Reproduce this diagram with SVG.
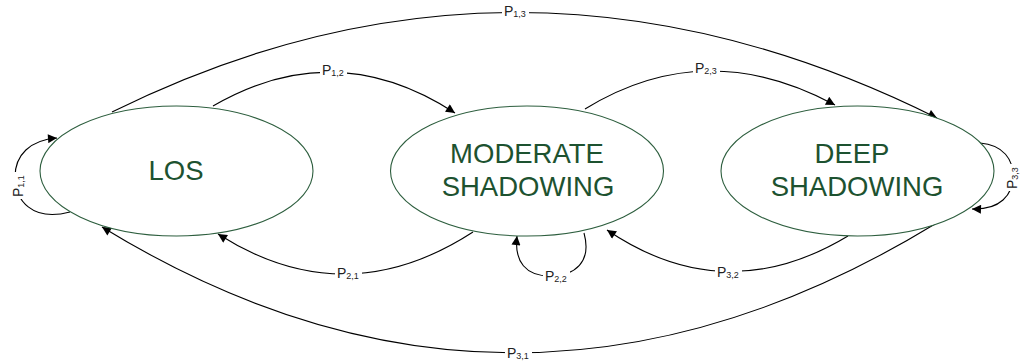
<svg xmlns="http://www.w3.org/2000/svg" width="1020" height="364" viewBox="0 0 1020 364">
<style>
.state{fill:#ffffff;stroke:#2d5e3e;stroke-width:1.1}
.stxt{font-family:"Liberation Sans",Arial,sans-serif;font-size:27.5px;fill:#1d5230;text-anchor:middle}
.edge{fill:none;stroke:#000000;stroke-width:1.1}
.lbl{font-family:"Liberation Sans",Arial,sans-serif;font-size:14px;fill:#222222}
.sub{font-size:9px}
.bg{fill:#ffffff}
</style>
<defs>
<marker id="arr" viewBox="0 0 10 10" refX="10" refY="5" markerWidth="11" markerHeight="9" orient="auto" markerUnits="userSpaceOnUse">
<path d="M0,0 L10,5 L0,10 z" fill="#000000"/>
</marker>
</defs>
<g id="connectors">
<path class="edge" d="M213,106 Q335,35 455,113" marker-end="url(#arr)"/>
<path class="edge" d="M585,109 Q705,35 835,105" marker-end="url(#arr)"/>
<path class="edge" d="M112,112 Q520,-90 937,118" marker-end="url(#arr)"/>
<path class="edge" d="M473,232 Q345,315 218,234" marker-end="url(#arr)"/>
<path class="edge" d="M848,236 Q725,310 607,230" marker-end="url(#arr)"/>
<path class="edge" d="M935,224 Q515,480 102,227" marker-end="url(#arr)"/>
<path class="edge" d="M70,212 C32,222 15,200 15,177 C15,155 30,140 57,138" marker-end="url(#arr)"/>
<path class="edge" d="M980,143 C1004,145 1013,160 1013,176 C1013,195 1000,210 972,209" marker-end="url(#arr)"/>
<path class="edge" d="M584,233 C592,262 575,276 550,276 C526,276 514,262 517,236" marker-end="url(#arr)"/>
</g>
<g id="labels">
<g id="l13"><rect class="bg" x="502" y="4" width="27" height="14"/><text class="lbl" x="504" y="16">P<tspan class="sub" dy="1">1,3</tspan></text></g>
<g id="l12"><rect class="bg" x="320" y="63" width="27" height="14"/><text class="lbl" x="322" y="75">P<tspan class="sub" dy="1">1,2</tspan></text></g>
<g id="l23"><rect class="bg" x="693" y="61" width="27" height="14"/><text class="lbl" x="695" y="73">P<tspan class="sub" dy="1">2,3</tspan></text></g>
<g id="l21"><rect class="bg" x="335" y="266" width="27" height="14"/><text class="lbl" x="337" y="278">P<tspan class="sub" dy="1">2,1</tspan></text></g>
<g id="l32"><rect class="bg" x="715" y="265" width="27" height="14"/><text class="lbl" x="717" y="277">P<tspan class="sub" dy="1">3,2</tspan></text></g>
<g id="l31"><rect class="bg" x="505" y="346" width="27" height="14"/><text class="lbl" x="507" y="358">P<tspan class="sub" dy="1">3,1</tspan></text></g>
<g id="l22"><rect class="bg" x="543" y="269" width="27" height="14"/><text class="lbl" x="545" y="281">P<tspan class="sub" dy="1">2,2</tspan></text></g>
<g id="l11" transform="translate(23,197) rotate(-90)"><rect class="bg" x="-2" y="-12" width="27" height="14"/><text class="lbl" x="0" y="0">P<tspan class="sub" dy="1">1,1</tspan></text></g>
<g id="l33" transform="translate(1017,189) rotate(-90)"><rect class="bg" x="-2" y="-12" width="27" height="14"/><text class="lbl" x="0" y="0">P<tspan class="sub" dy="1">3,3</tspan></text></g>
</g>
<g id="los">
<ellipse class="state" cx="176.5" cy="171" rx="136.5" ry="65"/>
<text class="stxt" x="176" y="180">LOS</text>
</g>
<g id="moderate">
<ellipse class="state" cx="527" cy="171" rx="136.5" ry="65"/>
<text class="stxt" x="527" y="163">MODERATE</text>
<text class="stxt" x="528" y="196">SHADOWING</text>
</g>
<g id="deep">
<ellipse class="state" cx="857.5" cy="171" rx="136.5" ry="65"/>
<text class="stxt" x="852" y="163">DEEP</text>
<text class="stxt" x="857" y="196">SHADOWING</text>
</g>
</svg>
